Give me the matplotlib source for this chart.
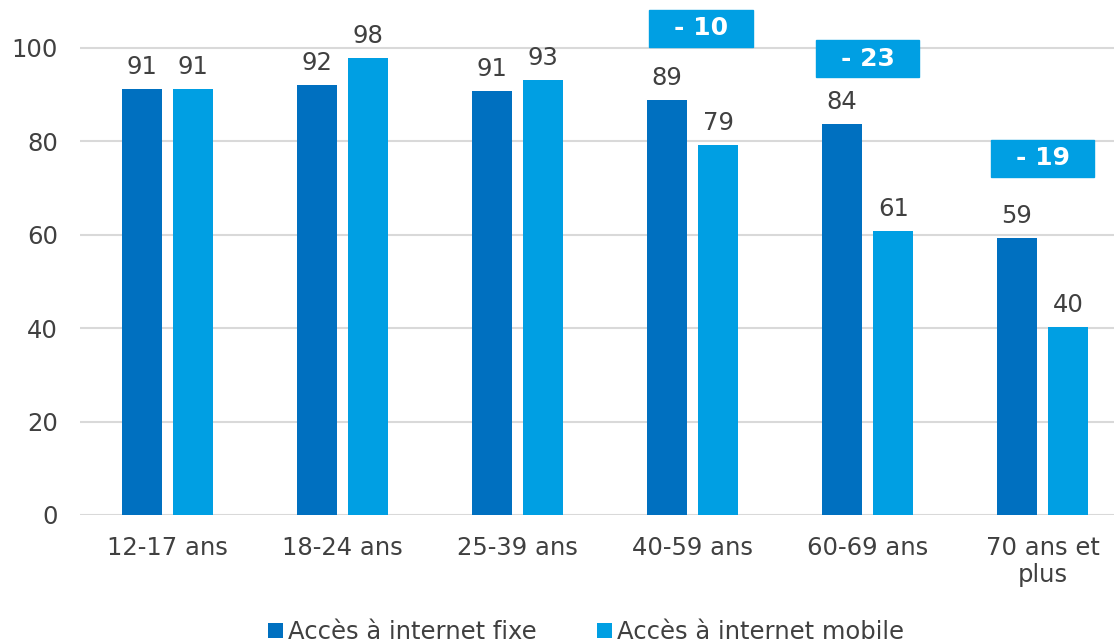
import numpy as np
import matplotlib.pyplot as plt
from matplotlib.patches import Rectangle

categories = ["12-17 ans", "18-24 ans", "25-39 ans", "40-59 ans", "60-69 ans", "70 ans et\nplus"]
fixe = [91.2, 92.1, 90.8, 88.9, 83.7, 59.3]
mobile = [91.2, 97.9, 93.1, 79.2, 60.8, 40.3]
fixe_labels = ["91", "92", "91", "89", "84", "59"]
mobile_labels = ["91", "98", "93", "79", "61", "40"]
ecart_idx = [3, 4, 5]
ecart_labels = ["- 10", "- 23", "- 19"]
ecart_y = [104.2, 97.6, 76.3]

blue_dark = "#0070C0"
blue_light = "#009FE3"
grey_txt = "#404040"

plt.rcParams['font.family'] = ['DejaVu Sans']

fig = plt.figure(figsize=(11.14, 6.43), dpi=100)
ax = fig.add_axes([80 / 1114, 128 / 643, 1050 / 1114, 514 / 643])

x = np.arange(len(categories))
w = 0.229
off = 0.147
ax.bar(x - off, fixe, w, color=blue_dark, label="Accès à internet fixe", zorder=3)
ax.bar(x + off, mobile, w, color=blue_light, label="Accès à internet mobile", zorder=3)

for i in range(len(categories)):
    ax.annotate(fixe_labels[i], (x[i] - off, fixe[i]), xytext=(0, 7), textcoords="offset points",
                ha="center", va="bottom", fontsize=17.5, color=grey_txt)
    ax.annotate(mobile_labels[i], (x[i] + off, mobile[i]), xytext=(0, 7), textcoords="offset points",
                ha="center", va="bottom", fontsize=17.5, color=grey_txt)

bw = 0.594
bh = 7.9
for i, lab, yc in zip(ecart_idx, ecart_labels, ecart_y):
    xc = x[i] + (0.05 if i == 3 else 0.0)
    ax.add_patch(Rectangle((xc - bw / 2, yc - bh / 2), bw, bh, color=blue_light, zorder=4, clip_on=False))
    ax.text(xc, yc, lab, ha="center", va="center", fontsize=18, fontweight="bold", color="white", zorder=5)

ax.set_xlim(-0.5, len(categories) - 0.5)
ax.set_ylim(0, 110)
ax.set_yticks([0, 20, 40, 60, 80, 100])
ax.set_xticks(x)
ax.set_xticklabels(categories, linespacing=1.15, va="top")
ax.tick_params(axis="both", length=0, labelsize=17.5, colors=grey_txt)
ax.tick_params(axis="x", pad=15)
ax.tick_params(axis="y", pad=16)
ax.yaxis.grid(True, color="#D9D9D9", linewidth=1.5, zorder=0)
for s in ax.spines.values():
    s.set_visible(False)

fig.legend(loc="center", bbox_to_anchor=(586 / 1114, 11 / 643), ncol=2, frameon=False,
           fontsize=17.5, handlelength=0.6, handleheight=0.6, handletextpad=0.2, columnspacing=2.5,
           labelcolor=grey_txt)

fig.savefig("out.png", dpi=100)
